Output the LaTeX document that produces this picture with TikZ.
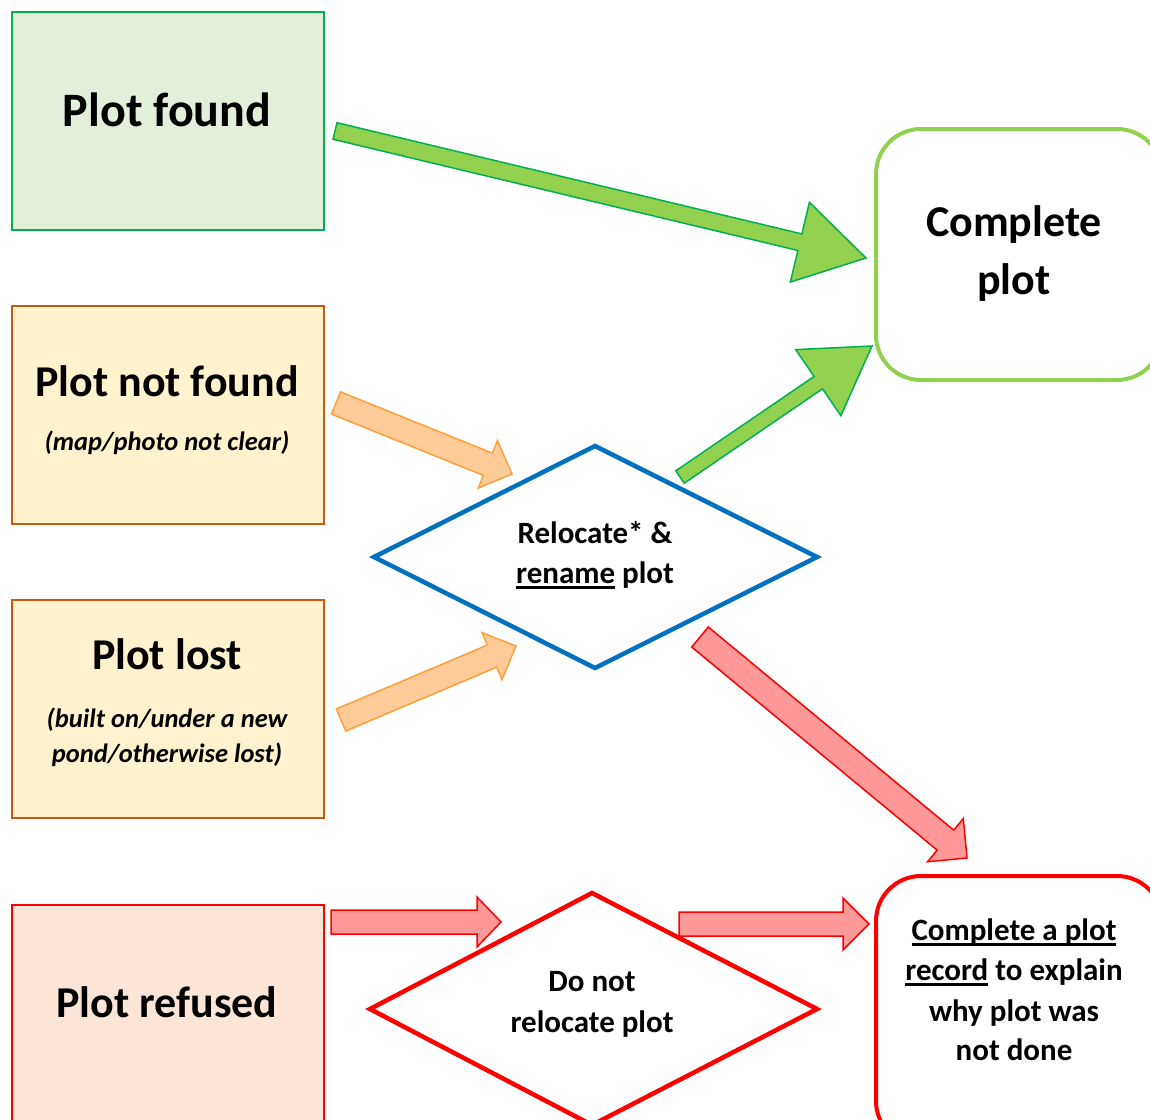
\documentclass[tikz,border=0pt]{standalone}
\usepackage{fontspec}
\setmainfont{Carlito}
\usetikzlibrary{calc}
\definecolor{foundfill}{HTML}{E2EFDA}
\definecolor{founddraw}{HTML}{00B050}
\definecolor{lostfill}{HTML}{FFF2CC}
\definecolor{lostdraw}{HTML}{C55A11}
\definecolor{refusedfill}{HTML}{FBE5D6}
\definecolor{redline}{HTML}{FF0000}
\definecolor{lightgreen}{HTML}{92D050}
\definecolor{bluedraw}{HTML}{0070C0}
\definecolor{orangefill}{HTML}{FFCC99}
\definecolor{orangedraw}{HTML}{FF9F3A}
\definecolor{redfill}{HTML}{FF9999}
\newcommand\thickul[1]{\setbox0\hbox{#1}\rlap{\rule[-0.18em]{\wd0}{0.09em}}\box0\relax}
% style, tail, tip, half shaft width, half head width, head length
\newcommand\blockarrow[6]{%
  \coordinate (bab) at ($(#3)!#6pt!(#2)$);
  \draw[#1] ($(#2)!#4pt!90:(#3)$) -- ($(bab)!#4pt!90:(#3)$) -- ($(bab)!#5pt!90:(#3)$)
    -- (#3) -- ($(bab)!#5pt!-90:(#3)$) -- ($(bab)!#4pt!-90:(#3)$) -- ($(#2)!#4pt!-90:(#3)$) -- cycle;}
\begin{document}
\begin{tikzpicture}[x=1pt,y=-1pt,
  box/.style={draw, line width=1.5pt, inner sep=0pt, anchor=north west, minimum width=312pt, minimum height=218pt},
  rbox/.style={draw, line width=4pt, inner sep=0pt, anchor=north west, rounded corners=45pt, minimum width=286pt},
  diam/.style={line width=4.5pt, line join=miter, fill=white},
  title/.style={anchor=base, font=\bfseries\fontsize{#1}{#1}\selectfont, inner sep=0pt},
  sub/.style={anchor=base, font=\bfseries\itshape\fontsize{26.5}{26.5}\selectfont, inner sep=0pt},
  txt/.style={anchor=base, font=\bfseries\fontsize{31}{31}\selectfont, inner sep=0pt},
  greenarrow/.style={fill=lightgreen, draw=founddraw, line width=1.5pt},
  orangearrow/.style={fill=orangefill, draw=orangedraw, line width=1.5pt},
  redarrow/.style={fill=redfill, draw=redline, line width=1.5pt}]
\useasboundingbox (0,0) rectangle (1150,1119);
\fill[white] (0,0) rectangle (1150,1119);
% left boxes
\node[box, draw=founddraw, fill=foundfill] (found) at (11,11) {};
\node[box, draw=lostdraw, fill=lostfill] (notfound) at (11,305) {};
\node[box, draw=lostdraw, fill=lostfill] (lost) at (11,599) {};
\node[box, draw=redline, fill=refusedfill, minimum height=240pt] (refused) at (11,904) {};
% right boxes
\node[rbox, draw=lightgreen, minimum height=251pt] (complete) at (874,127) {};
\node[rbox, draw=redline, minimum height=270pt] (record) at (874,874) {};
% diamonds
\coordinate (bl) at (374,557); \coordinate (bt) at (595,446);
\coordinate (br) at (817,557); \coordinate (bb) at (595,668);
\draw[diam, draw=bluedraw] (bl) -- (bt) -- (br) -- (bb) -- cycle;
\coordinate (rl) at (370,1009); \coordinate (rt) at (592,893);
\coordinate (rr) at (817,1009); \coordinate (rb) at (592,1125);
\draw[diam, draw=redline] (rl) -- (rt) -- (rr) -- (rb) -- cycle;
% texts
\node[title=48] (tfound) at (167,126) {Plot found};
\node[title=44] (tnotfound) at (167,396) {Plot not found};
\node[sub] (snotfound) at (167,450) {(map/photo not clear)};
\node[title=44] (tlost) at (167,669) {Plot lost};
\node[sub] (slost1) at (167,727) {(built on/under a new};
\node[sub] (slost2) at (167,762) {pond/otherwise lost)};
\node[title=44] (trefused) at (167,1017) {Plot refused};
\node[title=44] (tcomplete1) at (1014,236) {Complete};
\node[title=44] (tcomplete2) at (1014,294) {plot};
\node[txt] (trel1) at (595,543) {Relocate* \&};
\node[txt] (trel2) at (595,583) {\thickul{rename} plot};
\node[txt] (tdo1) at (592,991) {Do not};
\node[txt] (tdo2) at (592,1032) {relocate plot};
\node[txt] (trec1) at (1014,940) {\thickul{Complete a plot}};
\node[txt] (trec2) at (1014,980) {\thickul{record} to explain};
\node[txt] (trec3) at (1014,1021) {why plot was};
\node[txt] (trec4) at (1014,1060) {not done};
% arrow end points
\coordinate (a1s) at (335,131); \coordinate (a1e) at (866,258);
\coordinate (a2s) at (680,477); \coordinate (a2e) at (872,346);
\coordinate (a3s) at (336,403); \coordinate (a3e) at (512,474);
\coordinate (a4s) at (341,720); \coordinate (a4e) at (516,646);
\coordinate (a5s) at (700,637); \coordinate (a5e) at (967,858);
\coordinate (a6s) at (331,922); \coordinate (a6e) at (501,922);
\coordinate (a7s) at (679,924); \coordinate (a7e) at (869,924);
\blockarrow{greenarrow}{a1s}{a1e}{8.5}{41}{68}
\blockarrow{greenarrow}{a2s}{a2e}{7.5}{40}{65}
\blockarrow{orangearrow}{a3s}{a3e}{12}{25.5}{26}
\blockarrow{orangearrow}{a4s}{a4e}{12}{25.5}{26}
\blockarrow{redarrow}{a5s}{a5e}{13}{28}{28}
\blockarrow{redarrow}{a6s}{a6e}{12}{25}{24}
\blockarrow{redarrow}{a7s}{a7e}{12}{26}{26}
\end{tikzpicture}
\end{document}
